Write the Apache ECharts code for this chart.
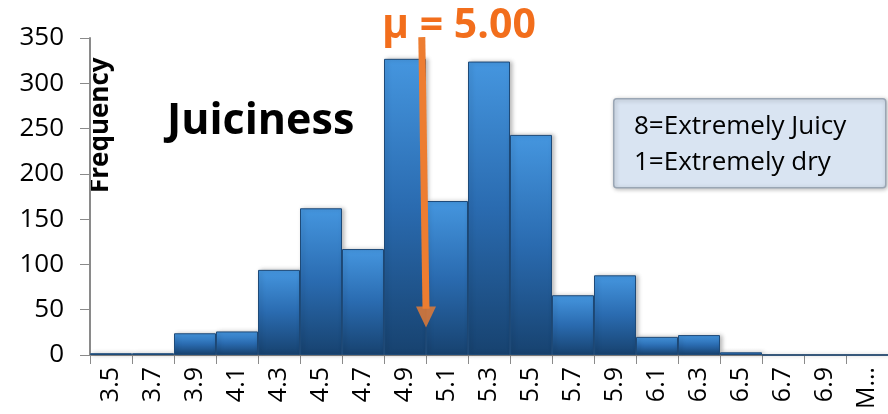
<!DOCTYPE html>
<html>
<head>
<meta charset="utf-8">
<script src="https://cdn.jsdelivr.net/npm/echarts@6/dist/echarts.min.js"></script>
<style>
  html, body { margin: 0; padding: 0; background: #fff; }
  #chart { width: 888px; height: 414px; }
</style>
</head>
<body>
<div id="chart"></div>
<script>
// Histogram bins (upper bin edge) and counts
const bins = ['3.5', '3.7', '3.9', '4.1', '4.3', '4.5', '4.7', '4.9', '5.1', '5.3',
              '5.5', '5.7', '5.9', '6.1', '6.3', '6.5', '6.7', '6.9', 'More'];
const frequency = [2, 2, 24, 26, 94, 162, 117, 327, 170, 324,
                   243, 66, 88, 20, 22, 3, 0, 0, 0];
const yTicks = [0, 50, 100, 150, 200, 250, 300, 350];
// Mean score marked with the arrow (score, top and tip of the arrow in counts)
const meanScore = 5.00;
const arrowTop = 351;
const arrowTip = 31;
const meanLabel = 'μ = ' + meanScore.toFixed(2);
const noteLines = ['8=Extremely Juicy', '1=Extremely dry'];

const FONT = '"Open Sans", "Liberation Sans", sans-serif';
const chart = echarts.init(document.getElementById('chart'), null, { renderer: 'canvas' });

const barFill = new echarts.graphic.LinearGradient(0, 0, 0, 1, [
  { offset: 0, color: '#4596df' },
  { offset: 0.5, color: '#2a6bb0' },
  { offset: 1, color: '#17426f' }
]);

const ARROW = '#ed7d31';

chart.setOption({
  animation: false,
  backgroundColor: '#ffffff',
  grid: { left: 90, top: 38, right: 0, bottom: 59, containLabel: false },
  title: [
    {
      text: meanLabel, left: 377, top: 1,
      textStyle: { fontFamily: FONT, fontSize: 41, fontWeight: 'bold', color: '#f26e1c' }
    },
    {
      text: 'Juiciness', left: 162, top: 95,
      textStyle: { fontFamily: FONT, fontSize: 43, fontWeight: 'bold', color: '#000' }
    }
  ],
  xAxis: [
    {
      type: 'category', data: bins, boundaryGap: true,
      axisLine: { lineStyle: { color: '#8a8a8a', width: 2 } },
      axisTick: { show: true, interval: 0, length: 9, lineStyle: { color: '#8a8a8a', width: 1 } },
      axisLabel: {
        interval: 0, rotate: 90, margin: 12, color: '#000',
        fontFamily: FONT, fontSize: 25, width: 46, overflow: 'truncate', ellipsis: '…'
      }
    },
    {
      // continuous scale over the same span, used to place the mean arrow
      type: 'value', min: 3.4, max: 7.2, show: false
    }
  ],
  yAxis: {
    type: 'value', min: 0, max: 350, interval: 50,
    splitLine: { show: false },
    axisLine: { show: true, lineStyle: { color: '#8a8a8a', width: 2 } },
    axisTick: { show: true, length: 10, lineStyle: { color: '#8a8a8a' } },
    axisLabel: {
      color: '#000', fontFamily: FONT, fontSize: 26, margin: 26,
      formatter: v => yTicks.includes(v) ? String(v) : ''
    }
  },
  series: [
    {
      type: 'bar', data: frequency, barCategoryGap: '0%',
      itemStyle: {
        color: barFill, borderColor: '#1e4a78', borderWidth: 1,
        shadowColor: 'rgba(0,0,0,0.25)', shadowBlur: 4, shadowOffsetX: 2, shadowOffsetY: 0
      }
    },
    {
      // arrow shaft
      type: 'line', xAxisIndex: 1, clip: false, silent: true,
      showSymbol: false, symbol: 'none',
      lineStyle: { color: ARROW, width: 7 },
      data: [[meanScore - 0.02, arrowTop], [meanScore, arrowTip + 20]]
    },
    {
      // arrow head, tip at arrowTip
      type: 'scatter', xAxisIndex: 1, clip: false, silent: true,
      symbol: 'triangle', symbolRotate: 180, symbolSize: [20, 21],
      symbolOffset: [0, -10],
      itemStyle: { color: ARROW },
      data: [[meanScore, arrowTip]]
    }
  ],
  graphic: [
    {
      // y-axis title, reading bottom to top
      type: 'text', x: 114, y: 193, rotation: Math.PI / 2,
      style: { text: 'Frequency', fontFamily: FONT, fontSize: 26, fontWeight: 'bold',
               fill: '#000', textAlign: 'left', textVerticalAlign: 'bottom' }
    },
    {
      type: 'rect', left: 613, top: 98,
      shape: { width: 272, height: 89, r: 3 },
      style: { fill: '#d9e4f2', stroke: '#9aa6b4', lineWidth: 1.5,
               shadowColor: 'rgba(0,0,0,0.25)', shadowBlur: 4, shadowOffsetX: 1, shadowOffsetY: 1 }
    },
    {
      type: 'text', left: 634, top: 109,
      style: { text: noteLines.join('\n'), fontFamily: FONT, fontSize: 26, lineHeight: 36, fill: '#000' }
    }
  ]
});
</script>
</body>
</html>
